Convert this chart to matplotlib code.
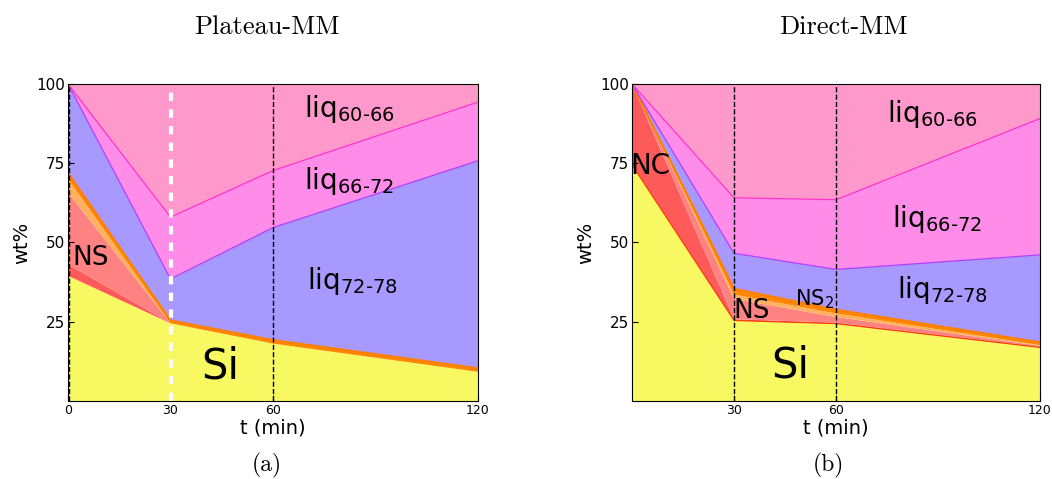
import numpy as np
import matplotlib
matplotlib.use('Agg')
import matplotlib.pyplot as plt

plt.rcParams['mathtext.fontset'] = 'dejavusans'

# time points (min)
t = [0, 30, 60, 120]

# Plateau-MM, layer thicknesses (wt%) from bottom to top
pl_si = [39.5, 24.5, 18.1, 9.2]
pl_nc = [3.6, 0.0, 0.0, 0.0]
pl_ns = [22.7, 0.0, 0.0, 0.0]
pl_ns2 = [4.2, 0.0, 0.0, 0.0]
pl_cr = [1.9, 0.9, 1.1, 1.1]
pl_l72 = [28.1, 13.1, 35.5, 65.5]
pl_l66 = [0.0, 19.5, 18.0, 18.5]
pl_l60 = [0.0, 42.0, 27.3, 5.7]

# Direct-MM
di_si = [74.5, 25.4, 24.4, 16.9]
di_nc = [25.5, 0.4, 0.3, 0.2]
di_ns = [0.0, 6.4, 1.8, 0.3]
di_ns2 = [0.0, 1.4, 1.1, 0.2]
di_cr = [0.0, 1.8, 1.2, 0.9]
di_l72 = [0.0, 11.2, 12.7, 27.6]
di_l66 = [0.0, 17.5, 22.0, 43.0]
di_l60 = [0.0, 35.8, 36.5, 11.0]

colors = ['#f8f862', '#ff5a5a', '#ff8282', '#ffb060', '#ff8800',
          '#a899ff', '#ff8ce8', '#ff99cc']
edges = ['#ff3300', '#ff3333', '#ff7070', '#ffa040', '#ff8000',
         '#b040ff', '#ff33cc', '#ff99cc']

fig = plt.figure(figsize=(10.52, 4.79), dpi=100)
ax1 = fig.add_axes([68/1052, 78/479, 410/1052, 317/479])
ax2 = fig.add_axes([632/1052, 78/479, 408/1052, 317/479])


def draw(ax, layers, red_edge):
    ax.stackplot(t, *layers, colors=colors, linewidth=0)
    cum = np.cumsum(np.array(layers), axis=0)
    if red_edge:
        ax.plot(t, cum[0], color=edges[0], lw=0.8)
    ax.plot(t, cum[4], color=edges[4], lw=1.6)
    ax.plot(t, cum[5], color=edges[5], lw=0.9)
    ax.plot(t, cum[6], color=edges[6], lw=0.9)
    ax.set_xlim(0, 120)
    ax.set_ylim(0, 100)
    ax.set_yticks([25, 50, 75, 100])
    ax.tick_params(direction='in', labelsize=11, pad=2, length=4)
    ax.set_ylabel('wt%', fontsize=14, labelpad=4)
    ax.set_xlabel('t (min)', fontsize=14, labelpad=1)


draw(ax1, [pl_si, pl_nc, pl_ns, pl_ns2, pl_cr, pl_l72, pl_l66, pl_l60], False)
draw(ax2, [di_si, di_nc, di_ns, di_ns2, di_cr, di_l72, di_l66, di_l60], True)

ax1.set_xticks([0, 30, 60, 120])
ax1.set_xticklabels(['0', '30', '60', '120'], fontsize=9)
ax2.set_xticks([30, 60, 120])
ax2.set_xticklabels(['30', '60', '120'], fontsize=9)

ax1.axvline(0.3, color='black', ls='--', lw=1)
ax1.axvline(30, color='white', ls=(0, (2, 2)), lw=3)
ax1.axvline(60, color='black', ls='--', lw=1)
ax2.axvline(30, color='black', ls='--', lw=1)
ax2.axvline(60, color='black', ls='--', lw=1)

# labels, Plateau-MM
ax1.text(69, 92, r'liq$_{\text{60-66}}$', fontsize=20, va='center')
ax1.text(69, 69.5, r'liq$_{\text{66-72}}$', fontsize=20, va='center')
ax1.text(70, 38, r'liq$_{\text{72-78}}$', fontsize=20, va='center')
ax1.text(1.2, 45, 'NS', fontsize=19, va='center')
ax1.text(39, 11, 'Si', fontsize=30, va='center')

# labels, Direct-MM
ax2.text(75, 90.5, r'liq$_{\text{60-66}}$', fontsize=20, va='center')
ax2.text(76.5, 57.5, r'liq$_{\text{66-72}}$', fontsize=20, va='center')
ax2.text(78, 35, r'liq$_{\text{72-78}}$', fontsize=20, va='center')
ax2.text(-0.5, 74, 'NC', fontsize=20, va='center')
ax2.text(29.7, 28.5, 'NS', fontsize=19, va='center')
ax2.text(48, 32, r'NS$_2$', fontsize=15, va='center')
ax2.text(41, 11.3, 'Si', fontsize=30, va='center')

fig.text(267/1052, 1 - 27/479, 'Plateau-MM', family='cmr10', fontsize=19,
         ha='center', va='center')
fig.text(843/1052, 1 - 27/479, 'Direct-MM', family='cmr10', fontsize=19,
         ha='center', va='center')
fig.text(267/1052, 1 - 465/479, '(a)', family='cmr10', fontsize=17,
         ha='center', va='center')
fig.text(828/1052, 1 - 465/479, '(b)', family='cmr10', fontsize=17,
         ha='center', va='center')

fig.savefig('out.png', dpi=100)
